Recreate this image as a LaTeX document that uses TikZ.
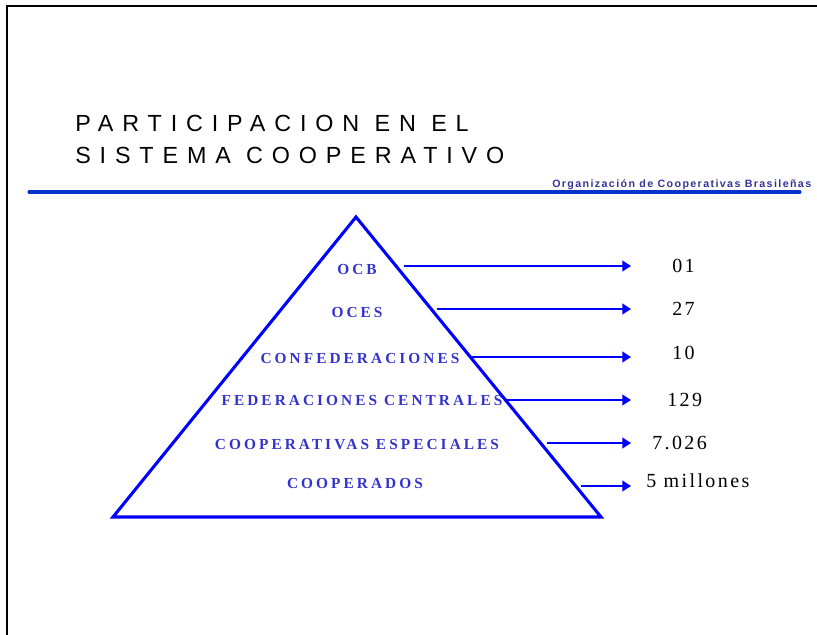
\documentclass[tikz,border=0pt]{standalone}
\usepackage{fontspec}
\setmainfont{Liberation Serif}
\setsansfont{Liberation Sans}
\usetikzlibrary{arrows.meta}
\definecolor{piramide}{RGB}{0,0,255}
\definecolor{nivel}{RGB}{51,51,204}
\definecolor{raya}{RGB}{0,51,204}
\definecolor{ocb}{RGB}{51,51,153}
\tikzset{
  nivel/.style={text=nivel,inner sep=0pt,font=\fontsize{11.5}{13}\selectfont\bfseries\addfontfeature{LetterSpace=20}},
  valor/.style={anchor=west,inner sep=0pt,font=\fontsize{15}{17}\selectfont\addfontfeature{LetterSpace=12}},
  flecha/.style={piramide,line width=1.5pt,-{Triangle[length=6.5pt,width=8pt]}},
  titulo/.style={anchor=base west,inner sep=0pt,font=\sffamily\fontsize{17.5}{20}\selectfont\addfontfeature{LetterSpace=38}}
}
\begin{document}
\begin{tikzpicture}[x=0.75pt,y=-0.75pt]
    \useasboundingbox (0,0) rectangle (817,635);
    \draw[line width=1.5pt] (7,640) -- (7,6) -- (830,6);
    % titulo
    \node[titulo] (tit1) at (75,132) {PARTICIPACION EN EL};
    \node[titulo] (tit2) at (75,163) {SISTEMA COOPERATIVO};
    \node[anchor=base west,inner sep=0pt,text=ocb,font=\sffamily\bfseries\fontsize{8}{9}\selectfont\addfontfeature{LetterSpace=13}] (org) at (552,187) {Organización de Cooperativas Brasileñas};
    \draw[raya,line width=2.3pt,line cap=round] (29,192) -- (800,192);
    % piramide
    \draw[piramide,line width=2.3pt,line join=miter] (113,517) -- (356,217) -- (601,517) -- cycle;
    \node[nivel] (n1) at (357,269) {OCB};
    \node[nivel] (n2) at (357,312) {OCES};
    \node[nivel] (n3) at (360,358) {CONFEDERACIONES};
    \node[nivel] (n4) at (362,400) {FEDERACIONES CENTRALES};
    \node[nivel] (n5) at (357,445) {COOPERATIVAS ESPECIALES};
    \node[nivel] (n6) at (355,483) {COOPERADOS};
    % flechas
    \coordinate (a1) at (404,266); \coordinate (b1) at (631,266);
    \coordinate (a2) at (437,309); \coordinate (b2) at (631,309);
    \coordinate (a3) at (470,357); \coordinate (b3) at (631,357);
    \coordinate (a4) at (507,400); \coordinate (b4) at (631,400);
    \coordinate (a5) at (547,443); \coordinate (b5) at (631,443);
    \coordinate (a6) at (581,486); \coordinate (b6) at (631,486);
    \foreach \i in {1,...,6}
        \draw[flecha] (a\i) -- (b\i);
    % valores
    \node[valor] (v1) at (672,266) {01};
    \node[valor] (v2) at (672,309) {27};
    \node[valor] (v3) at (672,353) {10};
    \node[valor] (v4) at (667,400) {129};
    \node[valor] (v5) at (652,443) {7.026};
    \node[valor] (v6) at (646,481) {5 millones};
\end{tikzpicture}
\end{document}
